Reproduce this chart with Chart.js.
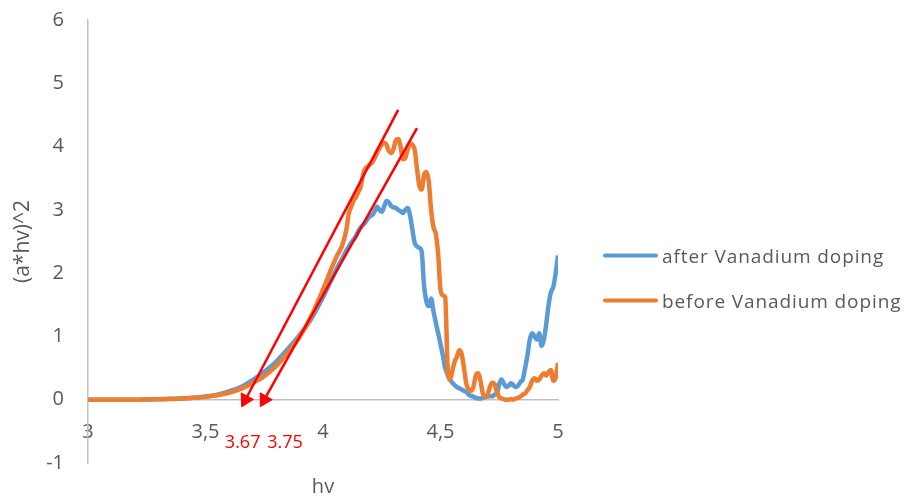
<!DOCTYPE html>
<html>
<head>
<meta charset="utf-8">
<script src="https://cdn.jsdelivr.net/npm/chart.js@4/dist/chart.umd.min.js"></script>
<style>
  html, body { margin: 0; padding: 0; background: #fff; }
  #wrap { width: 908px; height: 499px; }
</style>
</head>
<body>
<div id="wrap"><canvas id="chart"></canvas></div>
<script>
// photon energy (eV)
const hv = [
  3.00, 3.05, 3.10, 3.15, 3.20, 3.25, 3.30, 3.35, 3.40, 3.45,
  3.50, 3.55, 3.60, 3.65, 3.70, 3.75, 3.80, 3.85, 3.90, 3.95,
  4.00, 4.03, 4.06, 4.08,
  4.10, 4.11, 4.12, 4.13, 4.14, 4.15, 4.16, 4.17, 4.18, 4.19,
  4.20, 4.21, 4.22, 4.23, 4.24, 4.25, 4.26, 4.27, 4.28, 4.29,
  4.30, 4.31, 4.32, 4.33, 4.34, 4.35, 4.36, 4.37, 4.38, 4.39,
  4.40, 4.41, 4.42, 4.43, 4.44, 4.45, 4.46, 4.47, 4.48, 4.49,
  4.50, 4.51, 4.52, 4.53, 4.54, 4.55, 4.56, 4.57, 4.58, 4.59,
  4.60, 4.61, 4.62, 4.63, 4.64, 4.65, 4.66, 4.67, 4.68, 4.69,
  4.70, 4.71, 4.72, 4.73, 4.74, 4.75, 4.76, 4.77, 4.78, 4.79,
  4.80, 4.81, 4.82, 4.83, 4.84, 4.85, 4.86, 4.87, 4.88, 4.89,
  4.90, 4.91, 4.92, 4.93, 4.94, 4.95, 4.96, 4.97, 4.98, 4.99,
  5.00
];

// (a*hv)^2 after doping
const afterDoping = [
  0.00, 0.00, 0.00, 0.00, 0.00, 0.005, 0.01, 0.015, 0.02, 0.03,
  0.05, 0.08, 0.13, 0.20, 0.31, 0.44, 0.60, 0.80, 1.02, 1.28,
  1.62, 1.85, 2.08, 2.22,
  2.36, 2.42, 2.48, 2.53, 2.58, 2.66, 2.72, 2.76, 2.80, 2.86,
  2.90, 2.92, 2.98, 3.05, 3.00, 2.97, 3.05, 3.14, 3.12, 3.06,
  3.04, 3.03, 3.00, 2.98, 2.95, 3.00, 3.03, 2.92, 2.70, 2.48,
  2.42, 2.40, 2.34, 1.80, 1.55, 1.48, 1.60, 1.40, 1.22, 1.05,
  0.88, 0.70, 0.50, 0.40, 0.32, 0.27, 0.23, 0.20, 0.18, 0.16,
  0.14, 0.12, 0.08, 0.06, 0.05, 0.03, 0.02, 0.02, 0.03, 0.04,
  0.05, 0.06, 0.05, 0.08, 0.10, 0.25, 0.32, 0.25, 0.20, 0.22,
  0.26, 0.23, 0.20, 0.22, 0.28, 0.32, 0.50, 0.70, 0.95, 1.05,
  1.00, 0.95, 1.05, 0.85, 0.95, 1.20, 1.50, 1.70, 1.78, 2.00,
  2.28
];

// (a*hv)^2 before doping
const beforeDoping = [
  0.00, 0.00, 0.00, 0.00, 0.00, 0.005, 0.008, 0.012, 0.02, 0.03,
  0.045, 0.07, 0.11, 0.17, 0.26, 0.37, 0.53, 0.74, 0.99, 1.32,
  1.74, 2.02, 2.28, 2.42,
  2.70, 2.95, 3.05, 3.15, 3.20, 3.28, 3.36, 3.55, 3.65, 3.68,
  3.72, 3.75, 3.82, 3.90, 3.97, 4.03, 4.06, 4.03, 3.93, 3.90,
  3.96, 4.10, 4.12, 4.00, 3.80, 3.82, 3.95, 4.05, 4.03, 3.95,
  3.65, 3.38, 3.32, 3.55, 3.60, 3.45, 3.00, 2.73, 2.62, 2.30,
  1.74, 1.65, 1.62, 0.55, 0.32, 0.45, 0.60, 0.68, 0.78, 0.72,
  0.50, 0.25, 0.16, 0.14, 0.20, 0.38, 0.42, 0.30, 0.10, 0.05,
  0.08, 0.20, 0.27, 0.25, 0.12, 0.04, 0.02, 0.01, 0.00, 0.00,
  0.01, 0.00, 0.02, 0.03, 0.05, 0.08, 0.10, 0.15, 0.20, 0.30,
  0.34, 0.30, 0.32, 0.38, 0.42, 0.38, 0.44, 0.47, 0.30, 0.35,
  0.58
];

// band gaps read from the tangent intercepts (eV)
const gapBefore = 3.67;
const gapAfter = 3.75;
// upper ends of the tangent lines [hv, (a*hv)^2]
const tangentTopBefore = [4.32, 4.58];
const tangentTopAfter = [4.40, 4.29];

const blue = '#5b9bd5';
const orange = '#ed7d31';
const red = '#ff0000';
const grey = '#595959';

const toPoints = (xs, ys) => xs.map((x, i) => ({ x: x, y: ys[i] }));

// turn the arrow head so it follows the tangent line downwards
function arrowAngle(ctx) {
  const pts = ctx.dataset.data;
  const sx = ctx.chart.scales.x, sy = ctx.chart.scales.y;
  const dx = sx.getPixelForValue(pts[0].x) - sx.getPixelForValue(pts[1].x);
  const dy = sy.getPixelForValue(pts[0].y) - sy.getPixelForValue(pts[1].y);
  return Math.atan2(dx, -dy) * 180 / Math.PI;
}

function tangent(label, gap, top) {
  return {
    label: label,
    data: [{ x: gap, y: 0 }, { x: top[0], y: top[1] }],
    borderColor: red,
    borderWidth: 2.5,
    pointStyle: 'triangle',
    pointRadius: (c) => c.dataIndex === 0 ? 8 : 0,
    pointRotation: arrowAngle,
    pointBackgroundColor: red,
    pointBorderColor: red,
    pointBorderWidth: 1,
    order: 0
  };
}

// legend, intercept values and the hv title
const extras = {
  id: 'extras',
  afterDraw(chart) {
    const { ctx, chartArea: area, scales: { x, y } } = chart;
    const y0 = y.getPixelForValue(0);
    ctx.save();

    ctx.font = '18px "Open Sans"';
    ctx.fillStyle = red;
    ctx.textBaseline = 'middle';
    ctx.textAlign = 'right';
    ctx.fillText(gapBefore.toFixed(2), x.getPixelForValue(gapBefore) + 15, y0 + 43);
    ctx.textAlign = 'left';
    ctx.fillText(gapAfter.toFixed(2), x.getPixelForValue(gapAfter) + 3, y0 + 43);

    ctx.font = '20px "Open Sans"';
    ctx.fillStyle = grey;
    ctx.textAlign = 'center';
    ctx.textBaseline = 'alphabetic';
    ctx.fillText('hv', (area.left + area.right) / 2, area.bottom + 30);

    ctx.font = '19px "Open Sans"';
    ctx.letterSpacing = '0.9px';
    ctx.textAlign = 'left';
    ctx.lineWidth = 4;
    ctx.lineCap = 'round';
    chart.data.datasets.slice(0, 2).forEach((ds, i) => {
      const ly = 255.5 + i * 45;
      const lx = area.right + 47;
      ctx.strokeStyle = ds.borderColor;
      ctx.beginPath();
      ctx.moveTo(lx, ly);
      ctx.lineTo(lx + 51, ly);
      ctx.stroke();
      ctx.fillStyle = grey;
      ctx.fillText(ds.label, lx + 57, ly + 7);
    });
    ctx.restore();
  }
};

new Chart(document.getElementById('chart').getContext('2d'), {
  type: 'line',
  data: {
    datasets: [
      {
        label: 'after Vanadium doping',
        data: toPoints(hv, afterDoping),
        borderColor: blue,
        borderWidth: 4.5,
        pointRadius: 0,
        cubicInterpolationMode: 'monotone',
        order: 2
      },
      {
        label: 'before Vanadium doping',
        data: toPoints(hv, beforeDoping),
        borderColor: orange,
        borderWidth: 4.5,
        pointRadius: 0,
        cubicInterpolationMode: 'monotone',
        order: 1
      },
      tangent('tangent before doping', gapBefore, tangentTopBefore),
      tangent('tangent after doping', gapAfter, tangentTopAfter)
    ]
  },
  options: {
    responsive: true,
    maintainAspectRatio: false,
    animation: false,
    events: [],
    layout: { padding: { top: 20, right: 350, bottom: 36, left: 0 } },
    plugins: {
      legend: { display: false },
      tooltip: { enabled: false }
    },
    scales: {
      x: {
        type: 'linear',
        position: { y: 0 },
        min: 3,
        max: 5,
        grid: { display: false, drawTicks: false },
        border: { display: true, color: '#bfbfbf', width: 1.5 },
        ticks: {
          stepSize: 0.5,
          padding: 21,
          color: grey,
          font: { family: 'Open Sans', size: 20 },
          callback: (v) => String(v).replace('.', ',')
        }
      },
      y: {
        type: 'linear',
        min: -1,
        max: 6,
        // invisible tick marks keep the labels off the axis line
        grid: { display: false, drawTicks: true, tickLength: 23 },
        border: { display: true, color: '#bfbfbf', width: 1.5 },
        ticks: {
          stepSize: 1,
          padding: 1,
          color: grey,
          font: { family: 'Open Sans', size: 20 }
        },
        title: {
          display: true,
          text: '(a*hv)^2',
          color: grey,
          font: { family: 'Open Sans', size: 21 },
          padding: { top: 10, bottom: 0 }
        },
        afterFit: (scale) => { scale.width = 88; }
      }
    }
  },
  plugins: [extras]
});
</script>
</body>
</html>
